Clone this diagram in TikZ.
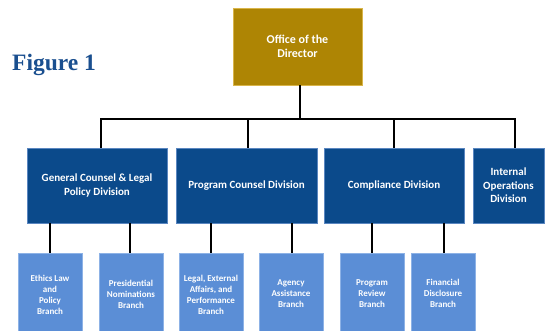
\documentclass[tikz,border=0pt]{standalone}
\usepackage{fontspec}
\setmainfont{Carlito}
\newfontfamily\figfont{Liberation Serif}
\definecolor{gold}{HTML}{AE8504}
\definecolor{goldedge}{HTML}{D9B54A}
\definecolor{divblue}{HTML}{0B4A8B}
\definecolor{divedge}{HTML}{5A86C0}
\definecolor{brblue}{HTML}{5B8ED6}
\definecolor{bredge}{HTML}{8DB2E6}
\definecolor{figblue}{HTML}{1A4F8F}
\begin{document}
\begin{tikzpicture}[x=1pt,y=-1pt,
  dirbox/.style={draw=goldedge,line width=0.6pt,fill=gold,text=white,font=\bfseries\fontsize{12}{14}\selectfont,align=center,inner sep=0pt},
  divbox/.style={draw=divedge,line width=0.6pt,fill=divblue,text=white,font=\bfseries\fontsize{11}{13.5}\selectfont,align=center,inner sep=0pt,minimum height=75pt},
  brbox/.style={draw=bredge,line width=0.6pt,fill=brblue,minimum width=64pt,minimum height=83pt,inner sep=0pt},
  brtext/.style={text=white,font=\bfseries\fontsize{9}{11}\selectfont,align=center,inner sep=0pt},
  conn/.style={draw=black,line width=1.8pt}]
\useasboundingbox (0,0) rectangle (545,331);
\fill[white] (0,0) rectangle (545,331);
\node[text=figblue,font=\figfont\bfseries\fontsize{23.5}{28}\selectfont,anchor=base west,inner sep=0pt] (fig) at (12,71) {Figure 1};
\node[dirbox,minimum width=129pt,minimum height=77pt] (dir) at (297.5,46.5) {Office of the\\Director};
\node[divbox,minimum width=140pt] (gen) at (97,185.5) {General Counsel \& Legal\\Policy Division};
\node[divbox,minimum width=141pt] (pcd) at (246.5,185.5) {Program Counsel Division};
\node[divbox,minimum width=140pt] (cmp) at (394,185.5) {Compliance Division};
\node[divbox,minimum width=71pt] (iod) at (508.5,185.5) {Internal\\Operations\\Division};
% branches
\node[brbox] (eth) at (50,294.5) {};
\node[brbox] (pre) at (131,294.5) {};
\node[brbox] (leg) at (211,294.5) {};
\node[brbox] (agy) at (291,294.5) {};
\node[brbox] (prv) at (372,294.5) {};
\node[brbox] (fin) at (443,294.5) {};
\node[brtext] (etht) at (50,295) {Ethics Law\\and\\Policy\\Branch};
\node[brtext] (pret) at (131,294) {Presidential\\Nominations\\Branch};
\node[brtext] (legt) at (211,295) {Legal, External\\Affairs, and\\Performance\\Branch};
\node[brtext] (agyt) at (291,294) {Agency\\Assistance\\Branch};
\node[brtext] (prvt) at (372,294) {Program\\Review\\Branch};
\node[brtext] (fint) at (443,293.5) {Financial\\Disclosure\\Branch};
% bus coordinates
\coordinate (bg) at (101,119);
\coordinate (bp) at (248,119);
\coordinate (bc) at (394,119);
\coordinate (bi) at (515,119);
\coordinate (bd) at (300,119);
\draw[conn] (bd |- dir.south) -- (bd);
\draw[conn,line join=miter] (bg |- gen.north) -- (bg) -- (bi) -- (bi |- iod.north);
\draw[conn] (bp) -- (bp |- pcd.north);
\draw[conn] (bc) -- (bc |- cmp.north);
\draw[conn] (eth.north) -- (eth.north |- gen.south);
\draw[conn] ([xshift=-1pt]pre.north) -- ([xshift=-1pt]pre.north |- gen.south);
\draw[conn] (leg.north) -- (leg.north |- pcd.south);
\draw[conn] ([xshift=1pt]agy.north) -- ([xshift=1pt]agy.north |- pcd.south);
\draw[conn] (prv.north) -- (prv.north |- cmp.south);
\draw[conn] ([xshift=1pt]fin.north) -- ([xshift=1pt]fin.north |- cmp.south);
\end{tikzpicture}
\end{document}
